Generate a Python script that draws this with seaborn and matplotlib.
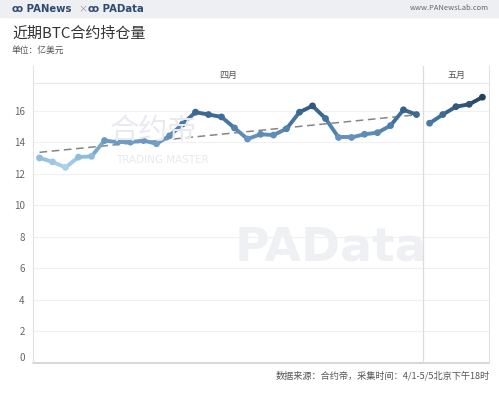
import numpy as np
import pandas as pd
import matplotlib
matplotlib.use("Agg")
import matplotlib.pyplot as plt
from matplotlib.colors import LinearSegmentedColormap, Normalize
import seaborn as sns

# ---- data ----
april_days = list(range(1, 31))
april_values = [13.0, 12.75, 12.4, 13.05, 13.1, 14.1, 14.0, 14.0, 14.1, 13.9,
                14.4, 15.15, 15.9, 15.75, 15.6, 14.9, 14.2, 14.5, 14.45, 14.85,
                15.9, 16.3, 15.5, 14.3, 14.3, 14.5, 14.6, 15.05, 16.05, 15.75]
may_days = [1, 2, 3, 4, 5]
may_values = [15.2, 15.75, 16.25, 16.4, 16.85]
month_labels = ["四月", "五月"]
y_ticks = [0, 2, 4, 6, 8, 10, 12, 14, 16]

title = "近期BTC合约持仓量"
subtitle = "单位：亿美元"
source = "数据来源：合约帝，采集时间：4/1-5/5北京下午18时"

sns.set_theme(style="white")
plt.rcParams['font.family'] = ['Noto Sans CJK SC', 'DejaVu Sans']

cmap = LinearSegmentedColormap.from_list(
    "tab_blue", [(0.0, "#acd2ea"), (0.13, "#93bfdd"), (0.35, "#6d9cc5"),
                 (0.57, "#4f7fab"), (0.78, "#3a6690"), (1.0, "#22405c")])
norm = Normalize(vmin=12.4, vmax=16.9)

W, H = 499, 393
fig = plt.figure(figsize=(W / 100, H / 100), dpi=100)

def fx(px):
    return px / W

def fy(py):
    return 1 - py / H

# banner
fig.patches.append(plt.Rectangle((0, fy(17)), 1, 17 / H, transform=fig.transFigure,
                                 color="#eeeff2", zorder=0))
fig.text(fx(12), fy(8.5), "ꝏ PANews", fontsize=7.3, fontweight="bold",
         color="#2d4a6e", va="center", ha="left", family=['DejaVu Sans'])
fig.text(fx(78), fy(8.5), "×", fontsize=6.5, color="#999999", va="center", ha="left")
fig.text(fx(88), fy(8.5), "ꝏ PAData", fontsize=7.3, fontweight="bold",
         color="#2d4a6e", va="center", ha="left", family=['DejaVu Sans'])
fig.text(fx(489), fy(8.5), "www.PANewsLab.com", fontsize=5.4, color="#666666",
         va="center", ha="right")

fig.text(fx(12), fy(34), title, fontsize=10.8, color="#333333", va="center", ha="left")
fig.text(fx(12), fy(50), subtitle, fontsize=6.3, color="#555555", va="center", ha="left")

# plot area geometry (pixels)
left, div, right = 33, 423, 489
top, bottom = 83, 363
hdr_top = 66

ymax = 17.75

def make_ax(x0, x1):
    ax = fig.add_axes([fx(x0), fy(bottom), (x1 - x0) / W, (bottom - top) / H])
    ax.set_ylim(0, ymax)
    ax.set_facecolor("none")
    for s in ax.spines.values():
        s.set_visible(False)
    ax.set_yticks(y_ticks)
    ax.grid(axis="y", color="#f0f0f0", linewidth=0.8)
    ax.set_axisbelow(True)
    ax.set_xticks([])
    ax.set_xlabel("")
    ax.set_ylabel("")
    return ax

def draw_series(ax, days, values):
    segs = []
    for i in range(len(days) - 1):
        c = (values[i] + values[i + 1]) / 2
        segs.append({"seg": i, "x": days[i], "y": values[i], "c": c})
        segs.append({"seg": i, "x": days[i + 1], "y": values[i + 1], "c": c})
    sdf = pd.DataFrame(segs)
    sns.lineplot(data=sdf, x="x", y="y", hue="c", units="seg", estimator=None,
                 palette=cmap, hue_norm=norm, linewidth=2.8, legend=False, ax=ax,
                 solid_capstyle="round", zorder=3)
    pdf = pd.DataFrame({"x": days, "y": values})
    sns.scatterplot(data=pdf, x="x", y="y", hue="y", palette=cmap, hue_norm=norm,
                    s=24, edgecolor="none", legend=False, ax=ax, zorder=4)
    ax.set_xlabel("")
    ax.set_ylabel("")

ax1 = make_ax(left, div)
adf = pd.DataFrame({"day": april_days, "v": april_values})
sns.regplot(data=adf, x="day", y="v", scatter=False, ci=None, ax=ax1, truncate=True,
            line_kws={"color": "#858585", "linestyle": (0, (5, 3)), "linewidth": 1.1, "zorder": 2})
draw_series(ax1, april_days, april_values)
ax1.set_xlim(0.5, 30.5)
ax1.set_xticks([])
ax1.set_ylim(0, ymax)
ax1.set_xlabel("")
ax1.set_ylabel("")
ax1.tick_params(axis="y", labelsize=7, colors="#666666", length=0, pad=6)
for lbl in ax1.get_yticklabels():
    if lbl.get_text() == "0":
        lbl.set_va("bottom")

ax2 = make_ax(div, right)
draw_series(ax2, may_days, may_values)
ax2.set_xlim(0.5, 5.5)
ax2.set_xticks([])
ax2.set_ylim(0, ymax)
ax2.set_yticklabels([])
ax2.tick_params(axis="y", length=0)
ax2.set_xlabel("")
ax2.set_ylabel("")

# frame lines
def hline(py, x0, x1, color, lw):
    fig.add_artist(plt.Line2D([fx(x0), fx(x1)], [fy(py), fy(py)], transform=fig.transFigure,
                              color=color, linewidth=lw, zorder=5))

def vline(px, y0, y1, color, lw):
    fig.add_artist(plt.Line2D([fx(px), fx(px)], [fy(y0), fy(y1)], transform=fig.transFigure,
                              color=color, linewidth=lw, zorder=5))

hline(top, left, right, "#e8e8e8", 0.8)
hline(bottom, left, right, "#d6d6d6", 1.4)
vline(left, hdr_top, bottom, "#e2e2e2", 0.8)
vline(div, hdr_top, bottom, "#dcdcdc", 0.9)
vline(right, hdr_top, bottom, "#e2e2e2", 0.8)

fig.text(fx((left + div) / 2), fy(75), month_labels[0], fontsize=6.5, color="#555555",
         ha="center", va="center")
fig.text(fx((div + right) / 2), fy(75), month_labels[1], fontsize=6.5, color="#555555",
         ha="center", va="center")

# faint watermarks
fig.text(fx(110), fy(131), "合约帝", fontsize=21, color="#e8eaee", ha="left", va="center", zorder=1)
fig.text(fx(116), fy(160), "TRADING MASTER", fontsize=7.5, color="#e8eaee", ha="left",
         va="center", zorder=1, family=['DejaVu Sans'])
fig.text(fx(235), fy(248), "PAData", fontsize=34, fontweight="bold", color="#eef0f3",
         ha="left", va="center", zorder=1, family=['DejaVu Sans'])

fig.text(fx(490), fy(376), source, fontsize=6.6, color="#555555", ha="right", va="center")

fig.savefig("out.png", dpi=100)
